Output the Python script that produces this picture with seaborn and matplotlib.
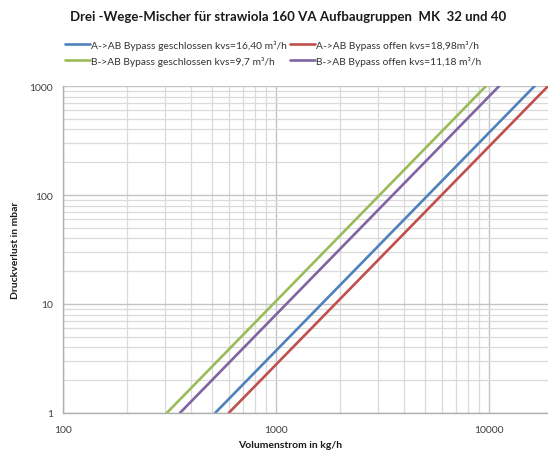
import pandas as pd
import matplotlib
matplotlib.use('Agg')
import matplotlib.pyplot as plt
import seaborn as sns
from matplotlib.ticker import LogLocator, FixedLocator, NullFormatter

# Kennlinien: Volumenstrom bei 1 mbar und bei 1000 mbar
labels = [
    'A->AB Bypass geschlossen kvs=16,40 m³/h',
    'A->AB Bypass offen kvs=18,98m³/h',
    'B->AB Bypass geschlossen kvs=9,7 m³/h',
    'B->AB Bypass offen kvs=11,18 m³/h',
]
flow_a_zu = [518, 16400]
flow_a_offen = [600, 18980]
flow_b_zu = [307, 9700]
flow_b_offen = [354, 11180]
druck = [1, 1000]

x_ticks = [100, 1000, 10000]
y_ticks = [1, 10, 100, 1000]

colors = ['#4F81BD', '#C0504D', '#9BBB59', '#8064A2']

rows = []
for lab, flows in zip(labels, [flow_a_zu, flow_a_offen, flow_b_zu, flow_b_offen]):
    for q, p in zip(flows, druck):
        rows.append({'Kennlinie': lab, 'Volumenstrom': q, 'Druckverlust': p})
df = pd.DataFrame(rows)

sns.set_style('white')
plt.rcParams['font.family'] = ['Lato', 'DejaVu Sans']

fig = plt.figure(figsize=(5.48, 4.52), dpi=100)
ax = fig.add_axes([63 / 548, 1 - 414 / 452, (553 - 63) / 548, (414 - 87) / 452])

sns.lineplot(data=df, x='Volumenstrom', y='Druckverlust', hue='Kennlinie',
             hue_order=labels, palette=colors, linewidth=1.9, ax=ax, legend=False)

ax.set_xscale('log')
ax.set_yscale('log')
ax.set_xlim(100, 20000)
ax.set_ylim(1, 1000)
ax.xaxis.set_major_locator(FixedLocator(x_ticks))
ax.yaxis.set_major_locator(FixedLocator(y_ticks))
ax.xaxis.set_minor_locator(LogLocator(base=10, subs=range(2, 10)))
ax.yaxis.set_minor_locator(LogLocator(base=10, subs=range(2, 10)))
ax.xaxis.set_minor_formatter(NullFormatter())
ax.yaxis.set_minor_formatter(NullFormatter())
ax.set_xticklabels([str(t) for t in x_ticks])
ax.set_yticklabels([str(t) for t in y_ticks])

ax.grid(which='major', color='#c4c4c4', linewidth=1.0)
ax.grid(which='minor', color='#dadada', linewidth=0.9)
ax.set_axisbelow(True)
for s in ['top', 'right']:
    ax.spines[s].set_visible(False)
for s in ['left', 'bottom']:
    ax.spines[s].set_color('#b0b0b0')
    ax.spines[s].set_linewidth(1.0)
ax.tick_params(axis='both', which='major', labelsize=7.5, colors='#404040',
               length=4, width=0.8, pad=3)
ax.tick_params(axis='both', which='minor', length=0)
ax.tick_params(axis='x', pad=5)
ax.set_xlabel('')
ax.set_ylabel('')

fig.text(288 / 548, 1 - 17 / 452, 'Drei -Wege-Mischer für strawiola 160 VA Aufbaugruppen  MK  32 und 40',
         ha='center', va='center', fontsize=9.5, fontweight='bold', color='#1a1a1a')
fig.text(290 / 548, 1 - 446 / 452, 'Volumenstrom in kg/h', ha='center', va='center',
         fontsize=7.5, fontweight='bold', color='#1a1a1a')
fig.text(16 / 548, 1 - 250 / 452, 'Druckverlust in mbar', ha='center', va='center',
         rotation=90, fontsize=7.5, fontweight='bold', color='#1a1a1a')

handles = [plt.Line2D([], [], color=c, linewidth=1.9) for c in colors]
order = [0, 2, 1, 3]
fig.legend([handles[i] for i in order], [labels[i] for i in order],
           loc='center', bbox_to_anchor=(273 / 548, 1 - 54 / 452), ncol=2,
           frameon=False, fontsize=7.4, handlelength=2.4, handletextpad=0.1,
           columnspacing=0.3, labelspacing=0.6, borderpad=0,
           labelcolor='#333333')

fig.savefig('out.png', dpi=100)
